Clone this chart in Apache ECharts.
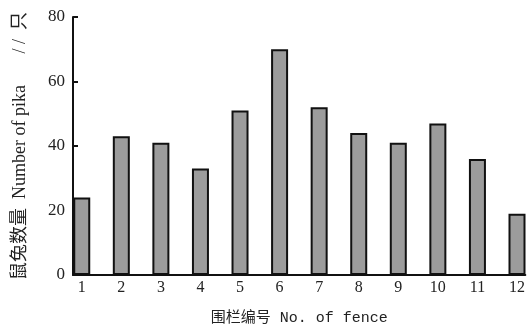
<!DOCTYPE html>
<html>
<head>
<meta charset="utf-8">
<script src="https://cdn.jsdelivr.net/npm/echarts@6/dist/echarts.min.js"></script>
<style>html,body{margin:0;padding:0;background:#fff}#c{width:528px;height:331px}</style>
</head>
<body>
<div id="c"></div>
<script>
const fences = [1, 2, 3, 4, 5, 6, 7, 8, 9, 10, 11, 12];
const pikaCounts = [24, 43, 41, 33, 51, 70, 52, 44, 41, 47, 36, 19];
const yTicks = [0, 20, 40, 60, 80];

const chart = echarts.init(document.getElementById('c'), null, {renderer: 'canvas'});
const serif = '"Liberation Serif", "Noto Sans CJK SC", serif';
chart.setOption({
  animation: false,
  backgroundColor: '#fff',
  grid: {left: 73, right: 0, top: 17, bottom: 56, containLabel: false},
  xAxis: {
    type: 'value',
    min: 0.779,
    max: 12.21,
    name: '围栏编号 No. of fence',
    nameLocation: 'middle',
    nameGap: 36,
    nameTextStyle: {
      fontFamily: '"Liberation Mono", "Noto Sans CJK SC", monospace',
      fontSize: 15,
      color: '#222'
    },
    axisLine: {show: true, lineStyle: {color: '#111', width: 2}},
    axisTick: {show: false},
    splitLine: {show: false},
    axisLabel: {
      customValues: fences,
      margin: 5,
      fontFamily: serif,
      fontSize: 16,
      color: '#222'
    }
  },
  yAxis: {
    type: 'value',
    min: 0,
    max: 80,
    interval: 20,
    name: '鼠兔数量  Number of pika       / /  只',
    nameLocation: 'middle',
    nameRotate: 90,
    nameGap: 44,
    nameTextStyle: {
      fontFamily: serif,
      fontSize: 18,
      color: '#222'
    },
    axisLine: {show: true, lineStyle: {color: '#111', width: 2}},
    axisTick: {show: true, inside: true, length: 5, lineStyle: {color: '#111', width: 2}},
    splitLine: {show: false},
    axisLabel: {
      customValues: yTicks,
      margin: 8,
      fontFamily: serif,
      fontSize: 17,
      color: '#222'
    }
  },
  series: [{
    type: 'bar',
    barWidth: 17,
    data: fences.map((f, i) => [f, pikaCounts[i]]),
    itemStyle: {color: '#9c9c9c', borderColor: '#111', borderWidth: 2}
  }]
});
</script>
</body>
</html>
